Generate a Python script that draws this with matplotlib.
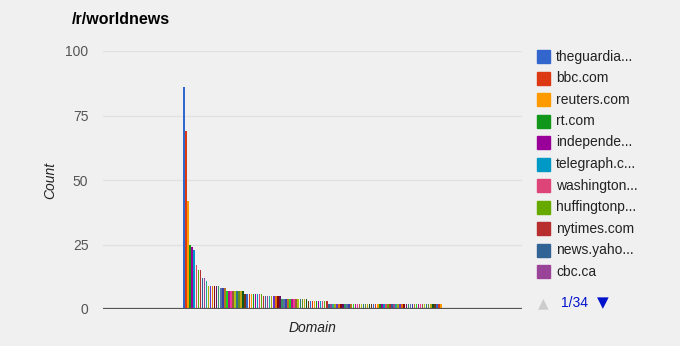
import matplotlib
matplotlib.use("Agg")
import matplotlib.pyplot as plt
from matplotlib.patches import Rectangle
import numpy as np

plt.rcParams["font.family"] = ["Liberation Sans", "DejaVu Sans"]

TITLE = "/r/worldnews"
LEGEND_LABELS = ["theguardia...", "bbc.com", "reuters.com", "rt.com", "independe...",
                 "telegraph.c...", "washington...", "huffingtonp...", "nytimes.com",
                 "news.yaho...", "cbc.ca"]
PAGER = "1/34"

# post counts per domain, sorted
counts = [
    86, 69, 42, 25, 24, 23, 17, 15, 15, 12, 12, 11,
    9, 9, 9, 9, 9, 9,
    8, 8, 8,
    7, 7, 7, 7, 7, 7, 7, 7, 7,
    6, 6, 6, 6, 6, 6, 6, 6, 6,
    5, 5, 5, 5, 5, 5, 5, 5, 5,
    4, 4, 4, 4, 4, 4, 4, 4, 4, 4, 4, 4, 4,
    3, 3, 3, 3, 3, 3, 3, 3, 3, 3,
    2, 2, 2, 2, 2, 2, 2, 2, 2, 2, 2, 2, 2, 2, 2, 2, 2, 2, 2, 2,
    2, 2, 2, 2, 2, 2, 2, 2, 2, 2, 2, 2, 2, 2, 2, 2, 2, 2, 2, 2,
    2, 2, 2, 2, 2, 2, 2, 2, 2, 2, 2, 2, 2, 2, 2, 2,
]
y_ticks = [0, 25, 50, 75, 100]

# google charts default palette
palette = ["#3366cc", "#dc3912", "#ff9900", "#109618", "#990099", "#0099c6",
           "#dd4477", "#66aa00", "#b82e2e", "#316395", "#994499", "#22aa99",
           "#aaaa11", "#6633cc", "#e67300", "#8b0707", "#651067", "#329262",
           "#5574a6", "#3b3eac", "#b77322", "#16d620", "#b91383", "#f4359e",
           "#9c5935", "#a9c413", "#2a778d", "#668d1c", "#bea413", "#0c5922",
           "#743411"]

BG = "#f1f0f1"
W, H = 680, 346

fig = plt.figure(figsize=(W / 100, H / 100), dpi=100, facecolor=BG)
ax = fig.add_axes([103 / W, (H - 309) / H, (522 - 103) / W, (309 - 51) / H])
ax.set_facecolor(BG)

n = len(counts)
x = np.arange(n)
colors = [palette[i % len(palette)] for i in range(n)]
ax.bar(x, counts, width=0.75, color=colors, linewidth=0)

# single category: the group takes ~61.8% of the plot width, centred
span = n / 0.618
pad = (span - n) / 2
ax.set_xlim(-0.5 - pad, n - 0.5 + pad)
ax.set_ylim(0, 100)

ax.set_yticks(y_ticks)
ax.set_yticklabels([str(t) for t in y_ticks], color="#555555", fontsize=10)
ax.set_xticks([])
ax.tick_params(axis="y", length=0, pad=10.5)
ax.grid(axis="y", color="#e2e1e2", linewidth=1)
ax.set_axisbelow(True)
for s in ax.spines.values():
    s.set_visible(False)
ax.axhline(0, color="#555555", linewidth=1.6, zorder=5)

ax.set_ylabel("Count", fontstyle="italic", color="#222222", fontsize=10, labelpad=6)
ax.set_xlabel("Domain", fontstyle="italic", color="#222222", fontsize=10, labelpad=9)

fig.text(72 / W, 1 - 20 / H, TITLE, fontsize=11.5, fontweight="bold",
         color="#000000", va="center", ha="left")

# legend (first page)
for i, lab in enumerate(LEGEND_LABELS):
    yc = 56.5 + i * 21.5
    fig.patches.append(Rectangle((537 / W, 1 - (yc + 6.5) / H), 13 / W, 13 / H,
                                 transform=fig.transFigure, color=palette[i]))
    fig.text(556 / W, 1 - yc / H, lab, fontsize=10, color="#222222",
             va="center", ha="left")

fig.text(543 / W, 1 - 303 / H, "\u25b2", fontsize=10, color="#cccccc",
         va="center", ha="center", family="DejaVu Sans")
fig.text(561 / W, 1 - 303 / H, PAGER, fontsize=10, color="#0011cc",
         va="center", ha="left")
fig.text(603 / W, 1 - 303 / H, "\u25bc", fontsize=11, color="#0011cc",
         va="center", ha="center", family="DejaVu Sans")

fig.savefig("out.png", dpi=100, facecolor=BG)
